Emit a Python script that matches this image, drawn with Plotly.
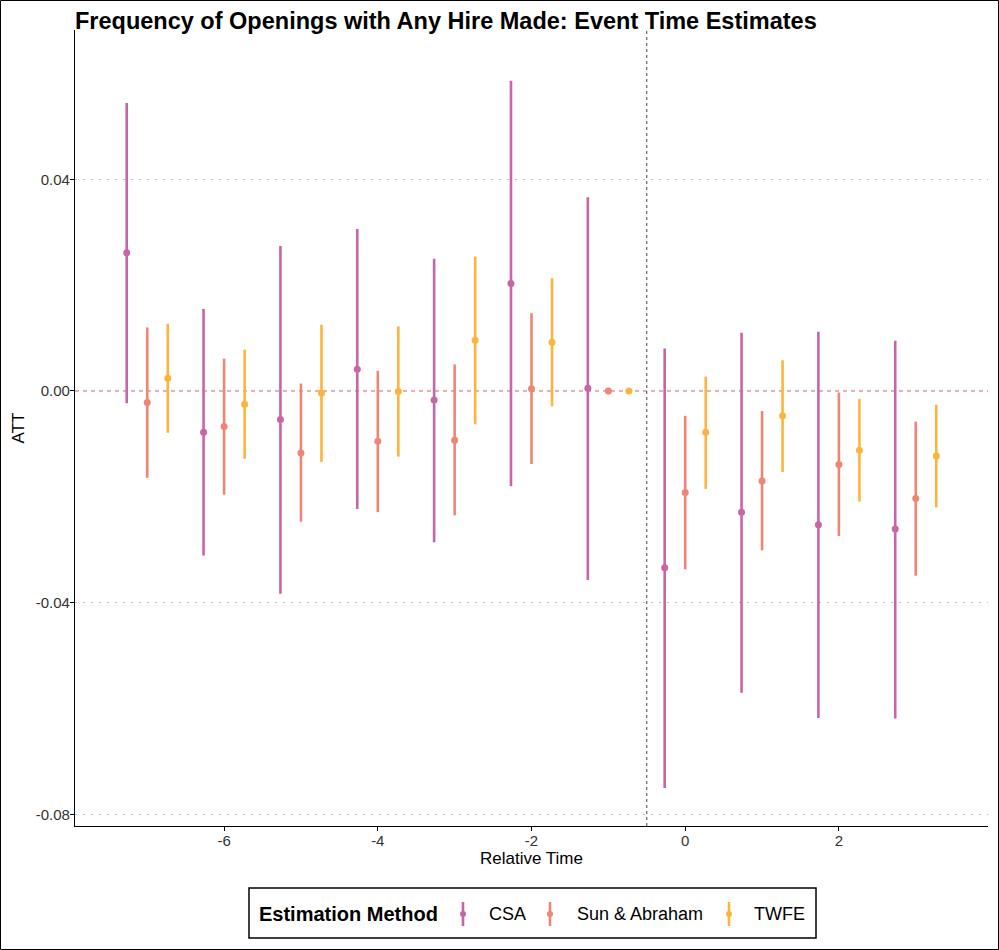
import plotly.graph_objects as go

# ---------------- data ----------------
rel_time = [-7, -6, -5, -4, -3, -2, -1, 0, 1, 2, 3]

csa_est = [0.0261, -0.0078, -0.0054, 0.0041, -0.0017, 0.0203, 0.0005, -0.0334, -0.0229, -0.0253, -0.0261]
csa_lo = [-0.0023, -0.0311, -0.0383, -0.0223, -0.0286, -0.0180, -0.0357, -0.0750, -0.0570, -0.0618, -0.0619]
csa_hi = [0.0544, 0.0155, 0.0274, 0.0306, 0.0250, 0.0586, 0.0366, 0.0080, 0.0110, 0.0112, 0.0095]

sa_est = [-0.0022, -0.0067, -0.0117, -0.0095, -0.0093, 0.0004, 0.0, -0.0192, -0.0170, -0.0139, -0.0203]
sa_lo = [-0.0164, -0.0196, -0.0247, -0.0229, -0.0235, -0.0138, 0.0, -0.0337, -0.0301, -0.0274, -0.0349]
sa_hi = [0.0120, 0.0061, 0.0014, 0.0038, 0.0050, 0.0147, 0.0, -0.0047, -0.0038, -0.0003, -0.0058]

twfe_est = [0.0024, -0.0025, -0.0004, -0.0001, 0.0096, 0.0092, 0.0, -0.0078, -0.0047, -0.0112, -0.0123]
twfe_lo = [-0.0079, -0.0128, -0.0134, -0.0124, -0.0063, -0.0029, 0.0, -0.0185, -0.0153, -0.0209, -0.0220]
twfe_hi = [0.0127, 0.0078, 0.0125, 0.0122, 0.0254, 0.0213, 0.0, 0.0027, 0.0058, -0.0015, -0.0026]

methods = ["CSA", "Sun & Abraham", "TWFE"]
y_ticks = [-0.08, -0.04, 0.0, 0.04]
x_ticks = [-6, -4, -2, 0, 2]

# ---------------- style ----------------
colors = {"CSA": "#C766A5", "Sun & Abraham": "#EF8575", "TWFE": "#FDB43F"}
offsets = {"CSA": -0.267, "Sun & Abraham": 0.0, "TWFE": 0.267}
FONT = "Liberation Sans, Arial, sans-serif"

series = {
    "CSA": (csa_est, csa_lo, csa_hi),
    "Sun & Abraham": (sa_est, sa_lo, sa_hi),
    "TWFE": (twfe_est, twfe_lo, twfe_hi),
}

fig = go.Figure()
for m in methods:
    est, lo, hi = series[m]
    xs = [t + offsets[m] for t in rel_time]
    fig.add_trace(go.Scatter(
        x=xs, y=est, mode="markers", name=m, showlegend=False,
        marker=dict(color=colors[m], size=7),
        error_y=dict(type="data", symmetric=False,
                     array=[h - e for h, e in zip(hi, est)],
                     arrayminus=[e - l for e, l in zip(est, lo)],
                     color=colors[m], thickness=2.6, width=0),
    ))

# plot area geometry (px)
L, R, T, B = 75, 11, 30, 124
W, H = 999, 950
PW, PH = W - L - R, H - T - B


def px(x):
    return (x - L) / PW


def py(y):
    return (H - B - y) / PH


shapes = []
# zero line (red dashed)
shapes.append(dict(type="line", xref="paper", x0=0, x1=1, yref="y", y0=0, y1=0,
                   line=dict(color="rgba(225,55,55,0.8)", width=1.1, dash="4px,4px"), layer="between"))
# vertical dashed line at -0.5
shapes.append(dict(type="line", xref="x", x0=-0.5, x1=-0.5, yref="paper", y0=0, y1=1,
                   line=dict(color="#444444", width=1, dash="3px,3px"), layer="between"))
# outer border
shapes.append(dict(type="rect", xref="paper", yref="paper",
                   x0=px(0.5), x1=px(W - 0.5), y0=py(H - 0.5), y1=py(0.5),
                   line=dict(color="black", width=1), fillcolor="rgba(0,0,0,0)"))
# legend box
shapes.append(dict(type="rect", xref="paper", yref="paper",
                   x0=px(249), x1=px(816), y0=py(938), y1=py(888),
                   line=dict(color="black", width=1.5), fillcolor="white"))

annotations = [dict(text="<b>Estimation Method</b>", xref="paper", yref="paper",
                    x=px(257), y=py(914), xanchor="left", yanchor="middle",
                    showarrow=False, font=dict(family=FONT, size=20, color="black"))]

leg_sym_x = {"CSA": 463, "Sun & Abraham": 550, "TWFE": 729}
leg_txt_x = {"CSA": 487, "Sun & Abraham": 575, "TWFE": 752}
for m in methods:
    sx = leg_sym_x[m]
    shapes.append(dict(type="line", xref="paper", yref="paper",
                       x0=px(sx), x1=px(sx), y0=py(926), y1=py(902),
                       line=dict(color=colors[m], width=2.6)))
    shapes.append(dict(type="circle", xref="paper", yref="paper",
                       x0=px(sx - 3), x1=px(sx + 3), y0=py(917), y1=py(911),
                       line=dict(color=colors[m], width=0), fillcolor=colors[m]))
    annotations.append(dict(text=m, xref="paper", yref="paper",
                            x=px(leg_txt_x[m]), y=py(914), xanchor="left", yanchor="middle",
                            showarrow=False, font=dict(family=FONT, size=18, color="black")))

fig.update_layout(
    width=W, height=H,
    margin=dict(l=L, r=R, t=T, b=B, autoexpand=False),
    paper_bgcolor="white", plot_bgcolor="white",
    font=dict(family=FONT, color="black"),
    title=dict(text="<b>Frequency of Openings with Any Hire Made: Event Time Estimates</b>",
               x=px(75), xanchor="left", xref="paper",
               y=1 - 21 / H, yanchor="middle", yref="container",
               font=dict(family=FONT, size=23.5, color="black")),
    shapes=shapes, annotations=annotations,
    showlegend=False,
    xaxis=dict(range=[-7.94, 3.94], tickvals=x_ticks, ticktext=[str(v) for v in x_ticks],
               showgrid=False, zeroline=False, showline=True, linecolor="black", linewidth=1.3,
               ticks="outside", ticklen=4, tickcolor="black", tickwidth=1.2,
               tickfont=dict(family=FONT, size=15, color="#333333"),
               ticklabelstandoff=-3,
               title=dict(text="Relative Time", standoff=2,
                          font=dict(family=FONT, size=17, color="black")),
               automargin=False),
    yaxis=dict(range=[-0.0822, 0.0682], tickvals=y_ticks,
               ticktext=[f"{v:.2f}" for v in y_ticks],
               showgrid=True, gridcolor="#BDBDBD", griddash="1.5px,6.5px", gridwidth=1.3,
               zeroline=False, showline=True, linecolor="black", linewidth=1.3,
               ticks="outside", ticklen=4, tickcolor="black", tickwidth=1.2,
               tickfont=dict(family=FONT, size=15, color="#333333"),
               ticklabelstandoff=-3,
               title=dict(text="ATT", standoff=6,
                          font=dict(family=FONT, size=17, color="black")),
               automargin=False),
)

fig.write_html("out.html")
